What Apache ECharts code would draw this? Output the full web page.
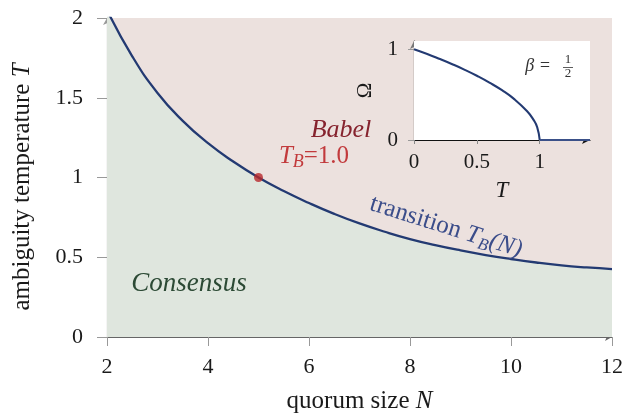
<!DOCTYPE html>
<html><head><meta charset="utf-8">
<script src="https://cdn.jsdelivr.net/npm/echarts@6/dist/echarts.min.js"></script>
<style>html,body{margin:0;padding:0;background:#fff}#c{width:636px;height:414px}</style>
</head><body><div id="c"></div>
<script>
// Main phase diagram: transition curve T_B(N)
const quorumN     = [2.0, 2.5, 3.0, 3.5, 4.0, 4.5, 5.0, 5.5, 6.0, 6.5, 7.0, 7.5, 8.0, 8.5, 9.0, 9.5, 10.0, 10.5, 11.0, 11.5, 12.0];
const transitionT = [2.05, 1.76, 1.53, 1.355, 1.215, 1.1, 1.0, 0.915, 0.84, 0.772, 0.712, 0.66, 0.614, 0.576, 0.543, 0.514, 0.489, 0.467, 0.449, 0.436, 0.426];
const markedPoint = [5, 1.0];
// Inset: order parameter Omega vs T
const insetT      = [0, 0.1, 0.2, 0.3, 0.4, 0.5, 0.6, 0.7, 0.8, 0.9, 0.95, 0.98, 1.0];
const insetOmega  = [1.0, 0.95, 0.895, 0.837, 0.775, 0.707, 0.632, 0.548, 0.447, 0.316, 0.224, 0.141, 0.0];
const insetFlatT  = [1.0, 1.4];
const insetFlatO  = [0.0, 0.0];
const insetXTicks = [0, 0.5, 1];
const insetYTicks = [0, 1];

const SERIF = '"Liberation Serif", "Times New Roman", serif';
const chart = echarts.init(document.getElementById('c'), null, {renderer: 'canvas'});

const option = {
  animation: false,
  backgroundColor: '#ffffff',
  grid: [
    {left: 107, top: 18, width: 505, height: 319, show: true, backgroundColor: '#ece1de', borderWidth: 0,
     containLabel: false, outerBoundsMode: 'none'},
    {left: 414, top: 41, width: 176, height: 99, show: true, backgroundColor: '#ffffff', borderWidth: 0, z: 1,
     containLabel: false, outerBoundsMode: 'none'}
  ],
  xAxis: [
    {
      gridIndex: 0, type: 'value', min: 2, max: 12, interval: 2,
      axisLine: {show: true, onZero: false, lineStyle: {color: '#666', width: 1.2},
                 symbol: ['none', 'arrow'], symbolSize: [6, 7]},
      axisTick: {show: true, length: 9, lineStyle: {color: '#999', width: 1}},
      axisLabel: {margin: 19, fontFamily: SERIF, fontSize: 22, color: '#1a1a1a'},
      splitLine: {show: false},
      name: 'quorum size {i|N}', nameLocation: 'middle', nameGap: 52,
      nameTextStyle: {fontFamily: SERIF, fontSize: 25, color: '#1a1a1a',
        rich: {i: {fontFamily: SERIF, fontStyle: 'italic', fontSize: 25, color: '#1a1a1a'}}}
    },
    {
      gridIndex: 1, type: 'value', min: 0, max: 1.4,
      axisLine: {show: true, onZero: false, lineStyle: {color: '#111', width: 1.2},
                 symbol: ['none', 'arrow'], symbolSize: [6, 8]},
      axisTick: {show: true, customValues: insetXTicks, length: 4, lineStyle: {color: '#888'}},
      axisLabel: {customValues: insetXTicks, margin: 12, fontFamily: SERIF, fontSize: 21, color: '#1a1a1a'},
      splitLine: {show: false},
      name: 'T', nameLocation: 'middle', nameGap: 39,
      nameTextStyle: {fontFamily: SERIF, fontStyle: 'italic', fontSize: 23, color: '#1a1a1a'}
    }
  ],
  yAxis: [
    {
      gridIndex: 0, type: 'value', min: 0, max: 2, interval: 0.5,
      axisLine: {show: true, onZero: false, lineStyle: {color: '#999', width: 1.2},
                 symbol: ['none', 'arrow'], symbolSize: [6, 7]},
      axisTick: {show: true, length: 10, lineStyle: {color: '#999', width: 1}},
      axisLabel: {margin: 24, fontFamily: SERIF, fontSize: 22, color: '#1a1a1a'},
      splitLine: {show: false}
    },
    {
      gridIndex: 1, type: 'value', min: 0, max: 1.09,
      axisLine: {show: true, onZero: false, lineStyle: {color: '#777', width: 1.4},
                 symbol: ['none', 'arrow'], symbolSize: [6, 8]},
      axisTick: {show: true, customValues: insetYTicks, length: 6, lineStyle: {color: '#999'}},
      axisLabel: {customValues: insetYTicks, margin: 16, fontFamily: SERIF, fontSize: 21, color: '#1a1a1a'},
      splitLine: {show: false},
      name: 'Ω', nameLocation: 'middle', nameGap: 38, nameRotate: 90,
      nameTextStyle: {fontFamily: SERIF, fontSize: 21, color: '#1a1a1a'}
    }
  ],
  series: [
    {
      type: 'line', xAxisIndex: 0, yAxisIndex: 0,
      data: quorumN.map((n, i) => [n, transitionT[i]]),
      smooth: 0.5, symbol: 'none', clip: true,
      lineStyle: {color: '#233a72', width: 2.3},
      areaStyle: {color: '#dfe6de', opacity: 1, origin: 'start'},
      z: 2
    },
    {
      type: 'scatter', xAxisIndex: 0, yAxisIndex: 0,
      data: [markedPoint], symbolSize: 9,
      itemStyle: {color: '#b8282c'}, z: 4
    },
    {
      type: 'line', xAxisIndex: 1, yAxisIndex: 1,
      data: insetT.map((t, i) => [t, insetOmega[i]]),
      smooth: 0.5, symbol: 'none',
      lineStyle: {color: '#233a72', width: 2.1}, z: 5
    },
    {
      type: 'line', xAxisIndex: 1, yAxisIndex: 1,
      data: insetFlatT.map((t, i) => [t, insetFlatO[i]]),
      symbol: 'none', lineStyle: {color: '#3a5088', width: 2.1}, z: 5
    }
  ],
  graphic: [
    {type: 'text', x: 22, y: 187, rotation: Math.PI / 2, z: 10, style: {
      text: '{n|ambiguity temperature }{i|T}', x: 0, y: 0, textAlign: 'center', textVerticalAlign: 'middle',
      rich: {
        n: {fontFamily: SERIF, fontSize: 25, fill: '#1a1a1a'},
        i: {fontFamily: SERIF, fontStyle: 'italic', fontSize: 25, fill: '#1a1a1a'}
      }}},
    {type: 'text', x: 341, y: 130, z: 10, style: {text: 'Babel', x: 0, y: 0, textAlign: 'center', textVerticalAlign: 'middle',
      fill: '#86232e', font: 'italic 26px ' + SERIF}},
    {type: 'text', x: 189, y: 284, z: 10, style: {text: 'Consensus', x: 0, y: 0, textAlign: 'center', textVerticalAlign: 'middle',
      fill: '#2c4a35', font: 'italic 27px ' + SERIF}},
    {type: 'text', x: 314, y: 156, z: 10, style: {
      text: '{t|T}{s|B}{n|=1.0}', x: 0, y: 0, textAlign: 'center', textVerticalAlign: 'middle',
      rich: {
        t: {fontFamily: SERIF, fontStyle: 'italic', fontSize: 25, fill: '#c23a3c', lineHeight: 30, verticalAlign: 'middle'},
        s: {fontFamily: SERIF, fontStyle: 'italic', fontSize: 18, fill: '#c23a3c', lineHeight: 18, verticalAlign: 'bottom'},
        n: {fontFamily: SERIF, fontSize: 25, fill: '#c23a3c', lineHeight: 30, verticalAlign: 'middle'}
      }}},
    {type: 'text', x: 446, y: 227, rotation: -0.305, z: 10, style: {
      text: '{n|transition }{t|T}{s|B}{t|(N)}', x: 0, y: 0, textAlign: 'center', textVerticalAlign: 'middle',
      rich: {
        n: {fontFamily: SERIF, fontSize: 25, fill: '#3b4d8a', lineHeight: 30, verticalAlign: 'middle'},
        t: {fontFamily: SERIF, fontStyle: 'italic', fontSize: 25, fill: '#3b4d8a', lineHeight: 30, verticalAlign: 'middle'},
        s: {fontFamily: SERIF, fontStyle: 'italic', fontSize: 17, fill: '#3b4d8a', lineHeight: 17, verticalAlign: 'bottom'}
      }}},
    {type: 'text', x: 538, y: 66, z: 10, style: {text: 'β =', x: 0, y: 0, textAlign: 'center', textVerticalAlign: 'middle',
      fill: '#333', font: 'italic 18px ' + SERIF}},
    {type: 'text', x: 568, y: 60, z: 10, style: {text: '1', x: 0, y: 0, textAlign: 'center', textVerticalAlign: 'middle',
      fill: '#333', font: '13px ' + SERIF}},
    {type: 'line', z: 10, shape: {x1: 563, y1: 67.5, x2: 573, y2: 67.5}, style: {stroke: '#333', lineWidth: 0.8}},
    {type: 'text', x: 568, y: 74, z: 10, style: {text: '2', x: 0, y: 0, textAlign: 'center', textVerticalAlign: 'middle',
      fill: '#333', font: '13px ' + SERIF}}
  ]
};
chart.setOption(option);
</script>
</body></html>
